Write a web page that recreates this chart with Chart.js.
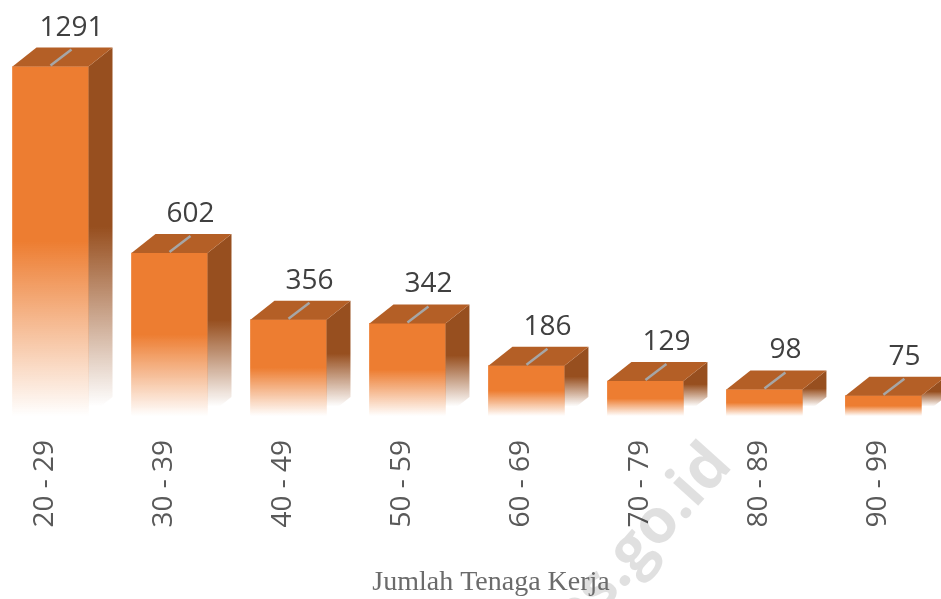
<!DOCTYPE html>
<html>
<head>
<meta charset="utf-8">
<script src="https://cdn.jsdelivr.net/npm/chart.js@4.4.1/dist/chart.umd.min.js"></script>
<style>
	body { margin: 0; background: #fff; }
	#wrap { width: 941px; height: 599px; }
</style>
</head>
<body>
<div id="wrap"><canvas id="Workers" width="941" height="599"></canvas></div>
<script>
const categories = ['20 - 29', '30 - 39', '40 - 49', '50 - 59', '60 - 69', '70 - 79', '80 - 89', '90 - 99'];
const workers = [1291, 602, 356, 342, 186, 129, 98, 75];
const chartTitle = 'Jumlah Tenaga Kerja';
const watermark = 'bps.go.id';

const depthX = 24;
const depthY = 19;

// front face fades out to white in the lower half
function frontGradient(context) {
	const chart = context.chart;
	const y = chart.scales.y;
	if (!y || context.type !== 'data') return '#ed7d31';
	const top = y.getPixelForValue(context.raw);
	const base = y.getPixelForValue(0);
	if (!isFinite(top) || !isFinite(base) || top === base) return '#ed7d31';
	const g = chart.ctx.createLinearGradient(0, top, 0, base);
	g.addColorStop(0, 'rgba(237,125,49,1)');
	g.addColorStop(0.5, 'rgba(237,125,49,1)');
	g.addColorStop(1, 'rgba(237,125,49,0)');
	return g;
}

const box3d = {
	id: 'box3d',
	afterDatasetsDraw(chart) {
		const ctx = chart.ctx;
		const meta = chart.getDatasetMeta(0);
		meta.data.forEach((bar, i) => {
			const p = bar.getProps(['x', 'y', 'base', 'width'], true);
			const l = p.x - p.width / 2;
			const r = p.x + p.width / 2;

			// side face
			const sg = ctx.createLinearGradient(0, p.y - depthY, 0, p.base - depthY / 2);
			sg.addColorStop(0, 'rgba(151,79,31,1)');
			sg.addColorStop(0.5, 'rgba(151,79,31,1)');
			sg.addColorStop(1, 'rgba(151,79,31,0)');
			ctx.save();
			ctx.fillStyle = sg;
			ctx.beginPath();
			ctx.moveTo(r, p.y);
			ctx.lineTo(r + depthX, p.y - depthY);
			ctx.lineTo(r + depthX, p.base - depthY);
			ctx.lineTo(r, p.base);
			ctx.closePath();
			ctx.fill();

			// top face
			ctx.fillStyle = '#b45f26';
			ctx.beginPath();
			ctx.moveTo(l, p.y);
			ctx.lineTo(r, p.y);
			ctx.lineTo(r + depthX, p.y - depthY);
			ctx.lineTo(l + depthX, p.y - depthY);
			ctx.closePath();
			ctx.fill();

			// grey stroke on the lid
			ctx.strokeStyle = '#a6a6a6';
			ctx.lineWidth = 2.5;
			ctx.beginPath();
			ctx.moveTo(p.x, p.y - 1);
			ctx.lineTo(p.x + depthX - 3, p.y - depthY + 2);
			ctx.stroke();

			// value label
			ctx.fillStyle = '#404040';
			ctx.font = '28px "Open Sans"';
			ctx.textAlign = 'center';
			ctx.textBaseline = 'alphabetic';
			ctx.fillText(String(workers[i]), p.x + 21, p.y - depthY - 12);
			ctx.restore();
		});
	},
	afterDraw(chart) {
		const ctx = chart.ctx;
		ctx.save();
		// faint watermark
		ctx.translate(734, 466);
		ctx.rotate(-48 * Math.PI / 180);
		ctx.fillStyle = 'rgba(0,0,0,0.12)';
		ctx.font = 'bold 62px "Open Sans"';
		ctx.textAlign = 'right';
		ctx.textBaseline = 'alphabetic';
		ctx.fillText(watermark, 0, 0);
		ctx.restore();

		ctx.save();
		ctx.fillStyle = '#6b6b6b';
		ctx.font = '28px "Liberation Serif"';
		ctx.textAlign = 'center';
		ctx.textBaseline = 'alphabetic';
		ctx.fillText(chartTitle, 491, 590);
		ctx.restore();
	}
};

new Chart(document.getElementById('Workers').getContext('2d'), {
	type: 'bar',
	data: {
		labels: categories,
		datasets: [{
			label: chartTitle,
			data: workers,
			backgroundColor: frontGradient,
			borderWidth: 0,
			barThickness: 76,
			clip: false
		}]
	},
	options: {
		responsive: false,
		animation: false,
		layout: {
			padding: { left: 50.5, right: 55, top: 10, bottom: 0 }
		},
		plugins: {
			legend: { display: false },
			tooltip: { enabled: false },
			title: { display: false }
		},
		scales: {
			x: {
				offset: false,
				grid: { display: false, drawTicks: false },
				border: { display: false },
				afterFit: (scale) => { scale.height = 183; },
				ticks: {
					autoSkip: false,
					minRotation: 90,
					maxRotation: 90,
					padding: 24,
					labelOffset: -5,
					color: '#595959',
					font: { family: 'Open Sans', size: 28 }
				}
			},
			y: {
				display: false,
				min: 0,
				max: 1500
			}
		}
	},
	plugins: [box3d]
});
</script>
</body>
</html>
